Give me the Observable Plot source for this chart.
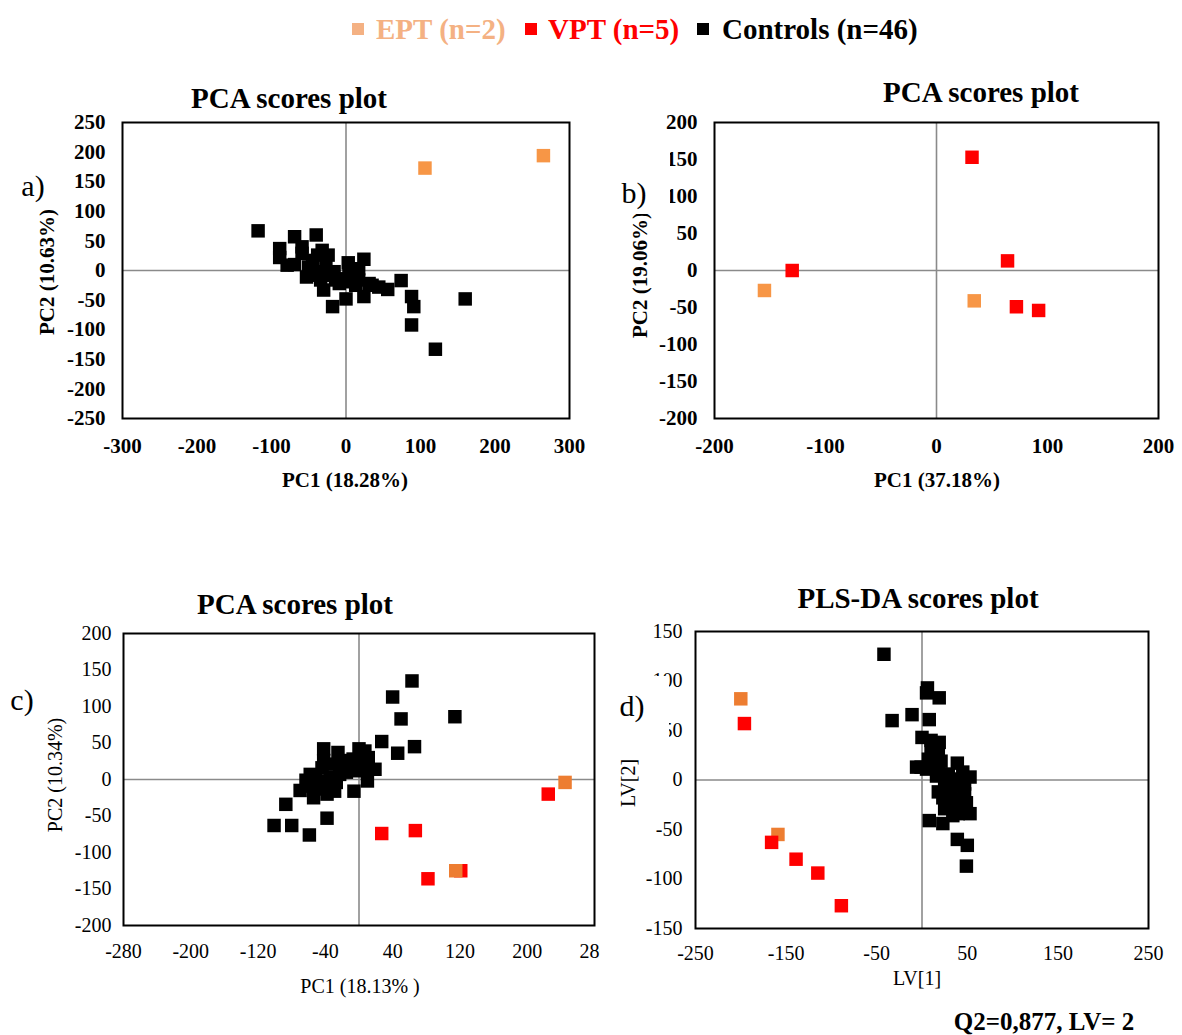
<!DOCTYPE html>
<html>
<head>
<meta charset="utf-8">
<script src="https://cdn.jsdelivr.net/npm/d3@7"></script>
<script src="https://cdn.jsdelivr.net/npm/@observablehq/plot@0.6"></script>
<style>
  body { margin: 0; background: #fff; }
  #page { position: relative; width: 1182px; height: 1035px; overflow: hidden;
          font-family: "Liberation Serif", "Times New Roman", serif; color: #000; background: #fff; }
  .lbl { position: absolute; transform: translate(-50%, -50%); white-space: nowrap; line-height: 1; }
  .rot { transform: translate(-50%, -50%) rotate(-90deg); }
  .panel { position: absolute; }
  .panel svg { display: block; }
  .cover { position: absolute; background: #fff; }
  .leg { position: absolute; top: 29px; transform: translateY(-50%); font-weight: bold; font-size: 29px; white-space: nowrap; line-height: 1; }
  .sq { position: absolute; width: 12px; height: 12px; top: 23px; }
</style>
</head>
<body>
<div id="page"></div>
<script>
// ---- group colours ----
const COLOR_EPT_LEGEND = "#F4B183";
const COLOR_EPT_AB = "#F79646";
const COLOR_EPT_CD = "#ED7D31";
const COLOR_VPT = "#FF0000";
const COLOR_CTRL = "#000000";

// ---- a) PCA, EPT vs controls ----
const EPT_A = [[106, 173], [265, 194]];
const CTRL_A = [
  [-118, 67], [-69, 57], [-40, 60], [-89, 37], [-89, 22], [-59, 29], [-38, 26], [-24, 26], [-69, 10], [-50, 6],
  [-53, -11], [-38, -2], [-30, -33], [-18, -61], [0, -48], [3, 13], [24, 19], [24, -44], [4, -8], [-14, -16],
  [17, -16], [35, -25], [56, -32], [74, -17], [88, -44], [91, -61], [88, -92], [120, -133], [160, -48], [-34, -16],
  [-23, -8], [-5, -14], [9, -2], [31, -22], [-45, 17], [-27, 6], [-79, 9], [-32, 34], [-16, -2], [13, -25],
  [44, -28], [-47, -8], [-9, -22], [6, -19], [17, 3], [-59, 40]
];
const TICKS_A_X = [-300, -200, -100, 0, 100, 200, 300];
const TICKS_A_Y = [-250, -200, -150, -100, -50, 0, 50, 100, 150, 200, 250];

// ---- b) PCA, EPT vs VPT ----
const EPT_B = [[-155, -27], [34, -41]];
const VPT_B = [[32, 153], [-130, 0], [64, 13], [72, -49], [92, -54]];
const TICKS_B_X = [-200, -100, 0, 100, 200];
const TICKS_B_Y = [-200, -150, -100, -50, 0, 50, 100, 150, 200];

// ---- c) PCA, all groups ----
const CTRL_C = [
  [63, 135], [40, 113], [50, 83], [114, 86], [27, 52], [46, 36], [66, 45],
  [-42, 42], [-25, 37], [-42, 26], [-52, 3], [-58, 7], [-70, -15], [-87, -34], [-54, -25], [-38, -11], [-29, -16], [-6, -16], [10, -2], [19, 14],
  [7, 39], [0, 42], [11, 30], [-17, 26], [-11, 16], [-3, 12], [5, 14], [-23, 7], [-34, 3], [-46, -2],
  [-27, -4], [-15, 10], [-50, -13], [-38, -20], [-101, -63], [-80, -63], [-59, -76], [-38, -53], [-33, 21], [-7, 28],
  [-60, -9], [-44, 16], [-20, 18], [-45, -8], [3, 26], [-63, -1]
];
const VPT_C = [[225, -20], [27, -74], [67, -70], [82, -136], [121, -125]];
const EPT_C = [[245, -4], [115, -125]];
const TICKS_C_X = [-280, -200, -120, -40, 40, 120, 200, 280];
const TICKS_C_Y = [-200, -150, -100, -50, 0, 50, 100, 150, 200];

// ---- d) PLS-DA, all groups ----
const CTRL_D = [
  [-42, 127], [6, 93], [5, 88], [19, 83], [-33, 60], [-11, 66], [8, 61], [0, 43], [10, 40], [19, 38],
  [18, 28], [7, 21], [-6, 13], [5, 11], [18, 14], [39, 17], [29, 6], [53, 3], [43, 1], [25, -2],
  [18, -12], [32, -12], [47, -14], [29, -23], [49, -23], [53, -34], [40, -34], [8, -41], [23, -44], [39, -60],
  [50, -66], [49, -87], [34, -6], [25, -29], [43, -29], [14, 14], [-1, 13], [23, -18], [38, -19], [16, 4],
  [47, -4], [10, 31], [29, -9], [45, 8], [34, -36], [21, 19]
];
const EPT_D = [[-200, 82], [-159, -55]];
const VPT_D = [[-196, 57], [-166, -63], [-139, -80], [-115, -94], [-89, -127]];
const TICKS_D_X = [-250, -150, -50, 50, 150, 250];
const TICKS_D_Y = [-150, -100, -50, 0, 50, 100, 150];

const page = document.getElementById("page");

function addLabel(text, cx, cy, css, rotated) {
  const el = document.createElement("div");
  el.className = "lbl" + (rotated ? " rot" : "");
  el.textContent = text;
  el.style.left = cx + "px";
  el.style.top = cy + "px";
  Object.assign(el.style, css || {});
  page.appendChild(el);
  return el;
}

// white box behind a panel letter
function addCover(left, top, w, h) {
  const el = document.createElement("div");
  el.className = "cover";
  Object.assign(el.style, {left: left + "px", top: top + "px", width: w + "px", height: h + "px"});
  page.appendChild(el);
}

// One scores plot: frame, zero lines, and square markers per group in draw order
function scoresPlot(o) {
  const svg = Plot.plot({
    width: o.width,
    height: o.height,
    marginLeft: o.ml, marginRight: o.mr, marginTop: o.mt, marginBottom: o.mb,
    x: {domain: o.xDomain, ticks: o.xTicks, tickSize: 0, tickPadding: o.xPad, tickFormat: d => String(d), label: null},
    y: {domain: o.yDomain, ticks: o.yTicks, tickSize: 0, tickPadding: o.yPad, tickFormat: d => String(d), label: null},
    style: {
      fontFamily: '"Liberation Serif", "Times New Roman", serif',
      fontSize: o.fontSize + "px",
      fontWeight: o.bold ? "bold" : "normal",
      background: "transparent",
      color: "#000"
    },
    marks: [
      Plot.ruleX([0], {stroke: "#8a8a8a", strokeWidth: 1.6}),
      Plot.ruleY([0], {stroke: "#8a8a8a", strokeWidth: 1.6}),
      ...o.layers.map(l => Plot.dot(l.pts, {x: d => d[0], y: d => d[1], symbol: "square", r: 7.6, fill: l.color})),
      Plot.frame({stroke: "#000", strokeWidth: 2})
    ]
  });
  const wrap = document.createElement("div");
  wrap.className = "panel";
  wrap.style.left = o.left + "px";
  wrap.style.top = o.top + "px";
  wrap.style.width = o.width + "px";
  wrap.style.height = o.height + "px";
  wrap.style.overflow = "hidden";
  wrap.appendChild(svg);
  page.appendChild(wrap);
}

// ---- legend ----
[[352, 376, COLOR_EPT_LEGEND, "EPT (n=2)"],
 [525, 548, COLOR_VPT, "VPT (n=5)"],
 [697, 722, COLOR_CTRL, "Controls (n=46)"]].forEach(([sx, tx, c, t]) => {
  const sq = document.createElement("div");
  sq.className = "sq";
  sq.style.left = sx + "px";
  sq.style.background = c;
  page.appendChild(sq);
  const tt = document.createElement("div");
  tt.className = "leg";
  tt.style.left = tx + "px";
  tt.style.color = c;
  tt.textContent = t;
  page.appendChild(tt);
});

// ---- panel a ----
scoresPlot({
  left: 0, top: 110, width: 600, height: 360,
  ml: 122, mr: 31, mt: 12, mb: 52,
  xDomain: [-300, 300], yDomain: [-250, 250], xTicks: TICKS_A_X, yTicks: TICKS_A_Y,
  xPad: 20, yPad: 17, fontSize: 21, bold: true,
  layers: [{pts: CTRL_A, color: COLOR_CTRL}, {pts: EPT_A, color: COLOR_EPT_AB}]
});
addLabel("PCA scores plot", 289, 98, {fontWeight: "bold", fontSize: "29px"});
addLabel("PC1 (18.28%)", 345, 480, {fontWeight: "bold", fontSize: "21px"});
addLabel("PC2 (10.63%)", 47, 272, {fontWeight: "bold", fontSize: "21px"}, true);
addLabel("a)", 33, 186, {fontSize: "30px"});

// ---- panel b ----
scoresPlot({
  left: 600, top: 110, width: 582, height: 360,
  ml: 114, mr: 24, mt: 12, mb: 52,
  xDomain: [-200, 200], yDomain: [-200, 200], xTicks: TICKS_B_X, yTicks: TICKS_B_Y,
  xPad: 20, yPad: 17, fontSize: 21, bold: true,
  layers: [{pts: VPT_B, color: COLOR_VPT}, {pts: EPT_B, color: COLOR_EPT_AB}]
});
addLabel("PCA scores plot", 981, 92, {fontWeight: "bold", fontSize: "29px"});
addLabel("PC1 (37.18%)", 937, 480, {fontWeight: "bold", fontSize: "21px"});
addLabel("PC2 (19.06%)", 640, 275, {fontWeight: "bold", fontSize: "21px"}, true);
addCover(606, 150, 64, 64);
addLabel("b)", 634, 193, {fontSize: "30px"});

// ---- panel c ----
scoresPlot({
  left: 0, top: 610, width: 600, height: 360,
  ml: 123, mr: 6, mt: 23, mb: 45,
  xDomain: [-280, 280], yDomain: [-200, 200], xTicks: TICKS_C_X, yTicks: TICKS_C_Y,
  xPad: 18, yPad: 12, fontSize: 20, bold: false,
  layers: [{pts: CTRL_C, color: COLOR_CTRL}, {pts: VPT_C, color: COLOR_VPT}, {pts: EPT_C, color: COLOR_EPT_CD}]
});
addLabel("PCA scores plot", 295, 604, {fontWeight: "bold", fontSize: "29px"});
addLabel("PC1 (18.13% )", 360, 986, {fontSize: "20px"});
addLabel("PC2 (10.34%)", 55, 775, {fontSize: "20px"}, true);
addLabel("c)", 22, 700, {fontSize: "30px"});

// ---- panel d ----
scoresPlot({
  left: 600, top: 610, width: 582, height: 360,
  ml: 95, mr: 34, mt: 21, mb: 42,
  xDomain: [-250, 250], yDomain: [-150, 150], xTicks: TICKS_D_X, yTicks: TICKS_D_Y,
  xPad: 17, yPad: 13, fontSize: 20, bold: false,
  layers: [{pts: CTRL_D, color: COLOR_CTRL}, {pts: EPT_D, color: COLOR_EPT_CD}, {pts: VPT_D, color: COLOR_VPT}]
});
addLabel("PLS-DA scores plot", 918, 598, {fontWeight: "bold", fontSize: "29px"});
addLabel("LV[1]", 917, 978, {fontSize: "20px"});
addLabel("LV[2]", 628, 783, {fontSize: "20px"}, true);
addCover(605, 676, 64, 62);
addLabel("d)", 632, 706, {fontSize: "30px"});
addLabel("Q2=0,877, LV= 2", 1044, 1021, {fontWeight: "bold", fontSize: "25px"});
</script>
</body>
</html>
